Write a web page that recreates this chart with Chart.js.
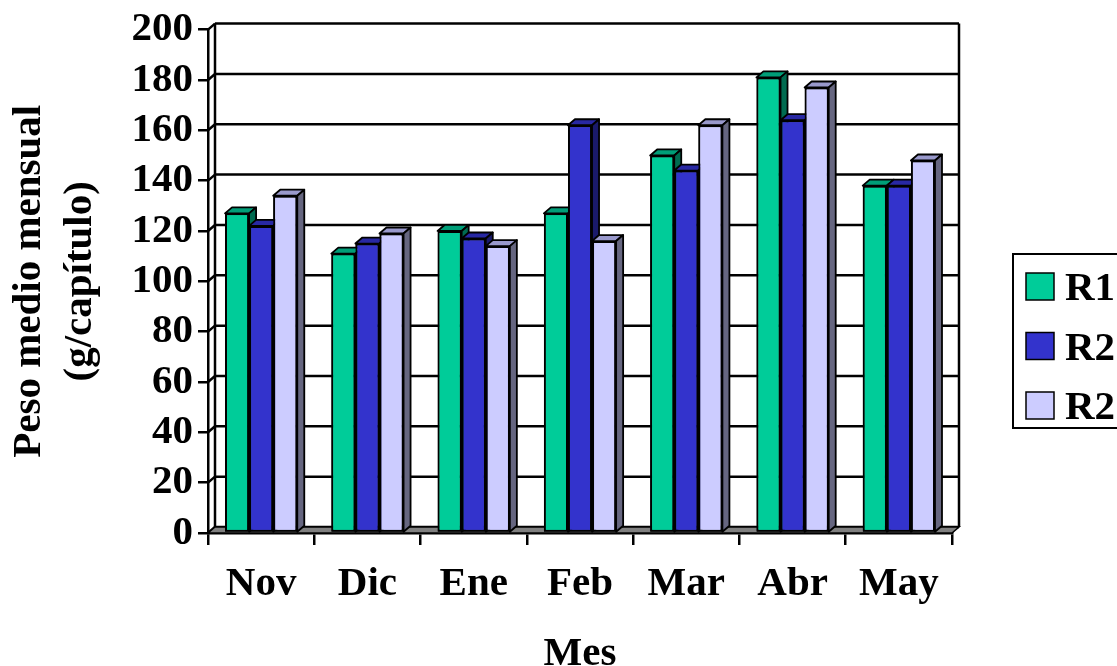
<!DOCTYPE html>
<html>
<head>
<meta charset="utf-8">
<script src="https://cdn.jsdelivr.net/npm/chart.js@4/dist/chart.umd.min.js"></script>
<style>
  html, body { margin: 0; padding: 0; background: #fff; }
  #caja { width: 1117px; height: 666px; position: relative; }
</style>
</head>
<body>
<div id="caja"><canvas id="grafico"></canvas></div>
<script>
// ── DATOS ───────────────────────────────────────────────────
const meses = ['Nov', 'Dic', 'Ene', 'Feb', 'Mar', 'Abr', 'May'];
const nombresSeries = ['R1', 'R2', 'R2'];
const serieR1 = [127, 111, 120, 127, 150, 181, 138];
const serieR2 = [122, 115, 117, 162, 144, 164, 138];
const serieR3 = [134, 119, 114, 116, 162, 177, 148];
const ejeY = { min: 0, max: 200, paso: 20 };

// ── ESTILO ──────────────────────────────────────────────────
const fuente = "'Liberation Serif', 'Times New Roman', serif";
const frente = ['#00CC99', '#3333CC', '#CCCCFF'];
const tapa = ['#009E78', '#2828A3', '#9999CC'];
const lado = ['#006B50', '#1A1A6B', '#666680'];
const DX = 7, DY = 6; // profundidad del efecto 3D

function linea(ctx, x1, y1, x2, y2) {
  ctx.beginPath(); ctx.moveTo(x1, y1); ctx.lineTo(x2, y2); ctx.stroke();
}
function poligono(ctx, pts, relleno) {
  ctx.beginPath();
  ctx.moveTo(pts[0][0], pts[0][1]);
  for (let i = 1; i < pts.length; i++) ctx.lineTo(pts[i][0], pts[i][1]);
  ctx.closePath();
  ctx.fillStyle = relleno; ctx.fill(); ctx.stroke();
}

// pared del fondo, rejilla y suelo
const paredes = {
  id: 'paredes',
  beforeDatasetsDraw(chart) {
    const { ctx, chartArea: a } = chart;
    const y = chart.scales.y;
    ctx.save();
    ctx.strokeStyle = '#000';
    ctx.lineWidth = 2.5;
    y.ticks.forEach(t => {
      const py = y.getPixelForValue(t.value);
      linea(ctx, a.left, py, a.left + DX, py - DY);
      linea(ctx, a.left + DX, py - DY, a.right + DX, py - DY);
    });
    linea(ctx, a.left + DX, a.top - DY, a.left + DX, a.bottom - DY);
    linea(ctx, a.right + DX, a.top - DY, a.right + DX, a.bottom - DY);
    ctx.lineWidth = 1.5;
    poligono(ctx, [[a.left, a.bottom], [a.left + DX, a.bottom - DY],
      [a.right + DX, a.bottom - DY], [a.right, a.bottom]], '#808080');
    ctx.restore();
  },
  // se repintan las barras en orden de izquierda a derecha con tapa y lado
  afterDatasetsDraw(chart) {
    const { ctx } = chart;
    ctx.save();
    ctx.lineJoin = 'round';
    meses.forEach((_, i) => {
      chart.data.datasets.forEach((ds, d) => {
        const barra = chart.getDatasetMeta(d).data[i];
        barra.draw(ctx);
        const { x, y, base, width } = barra.getProps(['x', 'y', 'base', 'width'], true);
        const izq = x - width / 2, der = x + width / 2;
        ctx.strokeStyle = '#000';
        ctx.lineWidth = 1.8;
        poligono(ctx, [[izq, y], [izq + DX, y - DY], [der + DX, y - DY], [der, y]], tapa[d]);
        poligono(ctx, [[der, y], [der + DX, y - DY], [der + DX, base - DY], [der, base]], lado[d]);
      });
    });
    ctx.restore();
  },
  // leyenda con marco
  afterDraw(chart) {
    const { ctx } = chart;
    ctx.save();
    ctx.strokeStyle = '#000';
    ctx.lineWidth = 2;
    ctx.strokeRect(1013, 254, 140, 174);
    ctx.font = 'bold 41px ' + fuente;
    ctx.textBaseline = 'alphabetic';
    ctx.textAlign = 'left';
    chart.data.datasets.forEach((ds, d) => {
      const top = 273 + d * 59.5;
      ctx.fillStyle = ds.backgroundColor;
      ctx.fillRect(1026, top, 28, 27);
      ctx.lineWidth = 1.5;
      ctx.strokeRect(1026, top, 28, 27);
      ctx.fillStyle = '#000';
      ctx.fillText(ds.label, 1065, top + 27);
    });
    ctx.restore();
  }
};

// ── GRÁFICO ─────────────────────────────────────────────────
const series = [serieR1, serieR2, serieR3];

new Chart(document.getElementById('grafico'), {
  type: 'bar',
  data: {
    labels: meses,
    datasets: series.map((valores, d) => ({
      label: nombresSeries[d],
      data: valores,
      backgroundColor: frente[d],
      borderColor: '#000',
      borderWidth: 2,
      borderSkipped: false,
      categoryPercentage: 0.68,
      barPercentage: 1
    }))
  },
  options: {
    responsive: true,
    maintainAspectRatio: false,
    animation: false,
    layout: { padding: { left: 0, top: 29, right: 165, bottom: 0 } },
    plugins: { legend: { display: false }, tooltip: { enabled: false } },
    scales: {
      x: {
        afterFit: s => { s.height = 133; },
        grid: { offset: true, drawOnChartArea: false, drawTicks: true, tickLength: 12, color: '#000', lineWidth: 2.5 },
        border: { display: true, color: '#000', width: 2.5 },
        ticks: { color: '#000', padding: 15, font: { family: fuente, size: 41, weight: 'bold' } },
        title: {
          display: true, text: 'Mes', color: '#000',
          font: { family: fuente, size: 41, weight: 'bold', lineHeight: 1 },
          padding: { top: 0, bottom: -9 }
        }
      },
      y: {
        min: ejeY.min, max: ejeY.max,
        afterFit: s => { s.width = 208; },
        grid: { drawOnChartArea: false, drawTicks: true, tickLength: 10, color: '#000', lineWidth: 2.5 },
        border: { display: true, color: '#000', width: 2.5 },
        ticks: { stepSize: ejeY.paso, autoSkip: false, color: '#000', padding: 5, font: { family: fuente, size: 41, weight: 'bold' } },
        title: {
          display: true, text: ['Peso medio mensual', '(g/capítulo)'], color: '#000',
          font: { family: fuente, size: 41, weight: 'bold', lineHeight: 1.25 },
          padding: { top: 4, bottom: 0 }
        }
      }
    }
  },
  plugins: [paredes]
});
</script>
</body>
</html>
